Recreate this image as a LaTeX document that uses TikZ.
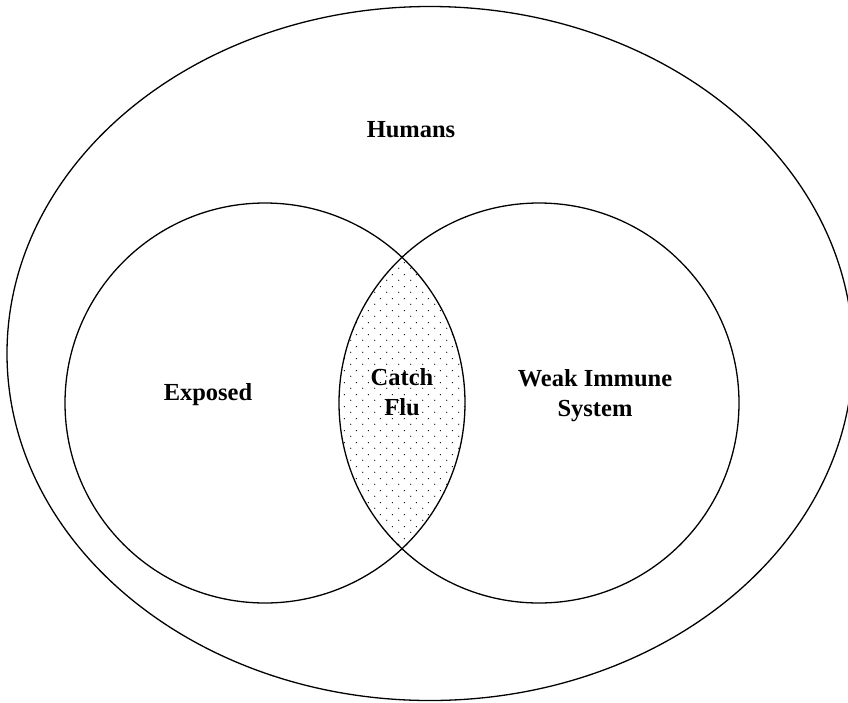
\documentclass[tikz,border=0pt]{standalone}
\usepackage{fontspec}
\setmainfont{Liberation Serif}
\usetikzlibrary{positioning,patterns.meta}
\tikzdeclarepattern{
  name=fluspeckle,
  type=uncolored,
  bounding box={(0pt,0pt) and (12pt,12pt)},
  tile size={(12pt,12pt)},
  code={\fill (3pt,3pt) circle (0.7pt); \fill (9pt,9pt) circle (0.7pt);}
}
\tikzset{
  setline/.style={draw, line width=1.3pt},
  setcircle/.style={setline, circle, minimum size=400pt, inner sep=0pt},
  setlabel/.style={font=\bfseries\fontsize{24.5}{30}\selectfont, align=center, anchor=base, inner sep=0pt}
}
\begin{document}
\begin{tikzpicture}[x=1pt, y=-1pt]
  \useasboundingbox (0,0) rectangle (848,702);
  \clip (0,0) rectangle (848,702);
  % universe
  \draw[setline] (430,353.5) ellipse [x radius=423, y radius=347];
  % overlap
  \begin{scope}
    \clip (265,403) circle (200);
    \fill[pattern=fluspeckle] (539,403) circle (200);
  \end{scope}
  \node[setcircle] (exposed) at (265,403) {};
  \node[setcircle] (weak) at (539,403) {};
  % labels
  \node[setlabel] (humans) at (411,137) {Humans};
  \node[setlabel] (exposedtext) at (208,400) {Exposed};
  \node[setlabel] (flu) at (402,415) {Catch\\Flu};
  \node[setlabel] (weaktext) at (595,416) {Weak Immune\\System};
\end{tikzpicture}
\end{document}
